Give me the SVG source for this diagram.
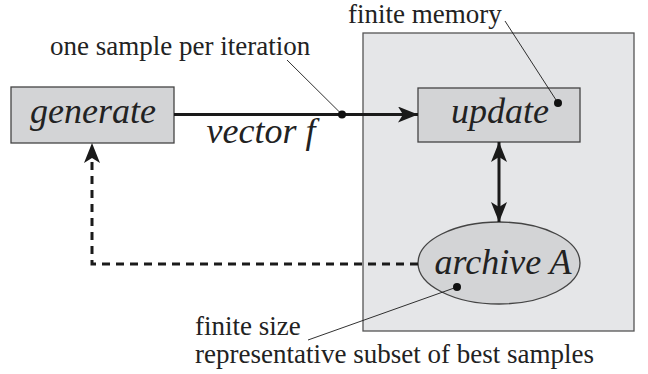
<svg xmlns="http://www.w3.org/2000/svg" width="648" height="374" viewBox="0 0 648 374">
<style>
.lbl{font-family:'Liberation Serif','Tinos','Times New Roman','DejaVu Serif',serif;font-size:27px;fill:#222}
.node{font-family:'Liberation Serif','Tinos','Times New Roman','DejaVu Serif',serif;font-size:36px;font-style:italic;fill:#222;text-anchor:middle}
.box{fill:#d3d4d6;stroke:#444;stroke-width:1.3}
.conn{stroke:#1a1a1a;stroke-width:3;fill:none}
.lead{stroke:#1a1a1a;stroke-width:0.9;fill:none}
.dot{fill:#111}
</style>
<defs>
<marker id="ah" viewBox="0 0 20 16" refX="20" refY="8" markerWidth="20" markerHeight="16" markerUnits="userSpaceOnUse" orient="auto-start-reverse">
<path d="M0,0 L20,8 L0,16 L5,8 Z" fill="#1a1a1a"/>
</marker>
</defs>
<g id="container">
<rect x="363" y="33" width="271" height="298" fill="#e5e6e8" stroke="#555" stroke-width="1.3"/>
</g>
<g id="generate">
<rect class="box" x="11" y="87" width="163" height="56"/>
<text class="node" x="93" y="123">generate</text>
</g>
<g id="update">
<rect class="box" x="418" y="88" width="162" height="54"/>
<text class="node" x="500" y="123">update</text>
</g>
<g id="archive">
<ellipse class="box" cx="499" cy="263" rx="81" ry="41"/>
<text class="node" x="503" y="274">archive A</text>
</g>
<g id="connectors">
<line class="conn" x1="174" y1="114.5" x2="418" y2="114.5" marker-end="url(#ah)"/>
<line class="conn" x1="499" y1="142" x2="499" y2="222" marker-start="url(#ah)" marker-end="url(#ah)"/>
<polyline class="conn" points="418,264 92,264 92,143" stroke-dasharray="8,6" marker-end="url(#ah)"/>
<text class="node" x="261" y="143">vector f</text>
</g>
<g id="annotations">
<text class="lbl" x="50" y="55">one sample per iteration</text>
<line class="lead" x1="287" y1="60" x2="342" y2="114.5"/>
<circle class="dot" cx="342" cy="114.5" r="4"/>
<text class="lbl" x="348" y="23">finite memory</text>
<line class="lead" x1="505" y1="21" x2="558" y2="103"/>
<circle class="dot" cx="558" cy="103" r="4"/>
<text class="lbl" x="195" y="335">finite size</text>
<text class="lbl" x="195" y="363">representative subset of best samples</text>
<line class="lead" x1="308" y1="340" x2="457" y2="287"/>
<circle class="dot" cx="457" cy="287" r="4"/>
</g>
</svg>
